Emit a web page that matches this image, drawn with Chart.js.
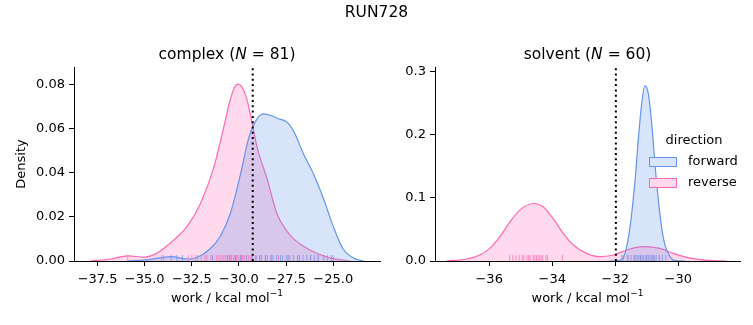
<!DOCTYPE html>
<html>
<head>
<meta charset="utf-8">
<title>RUN728</title>
<script src="https://cdn.jsdelivr.net/npm/chart.js@4.4.2/dist/chart.umd.min.js"></script>
<style>
  html, body { margin: 0; padding: 0; background: #fff; }
  #wrap { position: relative; width: 753px; height: 325px; }
  #wrap canvas { position: absolute; left: 0; top: 0; }
</style>
</head>
<body>
<div id="wrap">
  <canvas id="complex-chart" width="753" height="325"></canvas>
  <canvas id="solvent-chart" width="753" height="325"></canvas>
</div>
<script>
// --- données ---
const runName = 'RUN728';
const directions = ['forward', 'reverse'];

// complexe
const complexN = 81;
const complexForwardX = [-35.9, -34.9, -33.6, -32.7, -32.2, -31.5, -31.0, -30.45, -29.9, -29.5, -29.1, -28.7, -28.3, -27.9, -27.45, -27.1, -26.6, -26.0, -25.5, -25.0, -24.5, -23.9, -23.4];
const complexForwardY = [0, 0.0005, 0.002, 0.0009, 0.0017, 0.0058, 0.0111, 0.0218, 0.040, 0.0553, 0.0637, 0.0667, 0.066, 0.0645, 0.063, 0.059, 0.049, 0.0386, 0.0279, 0.0157, 0.0058, 0.0012, 0];
const complexReverseX = [-37.9, -36.8, -35.9, -35.0, -34.3, -33.45, -32.75, -32.05, -31.35, -30.8, -30.5, -30.25, -30.05, -29.85, -29.6, -29.4, -29.05, -28.5, -28.0, -27.3, -26.4, -25.5, -25.0, -24.1];
const complexReverseY = [0, 0.0009, 0.0023, 0.0018, 0.0038, 0.0096, 0.0157, 0.026, 0.042, 0.061, 0.072, 0.0785, 0.0802, 0.079, 0.074, 0.0667, 0.052, 0.037, 0.0218, 0.0119, 0.0058, 0.0023, 0.0011, 0];
const complexForwardRug = [-33.6, -33.3, -33.0, -31.4, -30.6, -30.2, -29.9, -29.6, -29.3, -29.1, -28.9, -28.8, -28.6, -28.5, -28.3, -28.2, -28.0, -27.8, -27.7, -27.5, -27.4, -27.3, -27.1, -26.9, -26.8, -26.6, -26.4, -26.2, -26.0, -25.8, -25.5, -25.3, -25.1, -25.0];
const complexReverseRug = [-35.9, -34.1, -34.0, -32.7, -32.5, -32.3, -32.2, -32.0, -31.8, -31.7, -31.5, -31.4, -31.2, -31.1, -31.0, -30.9, -30.8, -30.7, -30.6, -30.5, -30.45, -30.4, -30.3, -30.2, -30.15, -30.1, -30.0, -29.9, -29.85, -29.8, -29.7, -29.6, -29.5, -29.4, -29.3, -29.1, -28.9, -28.6, -28.3, -27.9, -27.4, -26.8, -26.2, -25.8];
const complexLineX = -29.27;
const complexXTicks = [-37.5, -35.0, -32.5, -30.0, -27.5, -25.0];
const complexYTicks = [0, 0.02, 0.04, 0.06, 0.08];

// solvant
const solventN = 60;
const solventForwardX = [-32.2, -31.85, -31.69, -31.53, -31.37, -31.27, -31.16, -31.06, -30.95, -30.84, -30.74, -30.63, -30.53, -30.42, -30.26, -30.1, -29.8];
const solventForwardY = [0, 0.001, 0.012, 0.054, 0.128, 0.191, 0.249, 0.277, 0.265, 0.217, 0.154, 0.096, 0.054, 0.025, 0.0068, 0.0005, 0];
const solventReverseX = [-37.35, -36.72, -36.3, -35.98, -35.66, -35.34, -35.03, -34.6, -34.29, -33.97, -33.65, -33.33, -32.91, -32.49, -32.06, -31.64, -31.11, -30.58, -30.16, -29.73, -29.31, -28.89, -28.46];
const solventReverseY = [0, 0.0032, 0.0095, 0.02, 0.0384, 0.062, 0.0805, 0.091, 0.0858, 0.067, 0.0437, 0.0253, 0.0121, 0.0068, 0.0095, 0.0174, 0.0226, 0.02, 0.0121, 0.0058, 0.0021, 0.0005, 0];
const solventForwardRug = [-31.75, -31.6, -31.5, -31.4, -31.35, -31.3, -31.25, -31.2, -31.15, -31.1, -31.05, -31.0, -30.95, -30.9, -30.85, -30.8, -30.75, -30.7, -30.6, -30.5];
const solventReverseRug = [-35.35, -35.25, -35.15, -35.05, -34.95, -34.9, -34.8, -34.75, -34.7, -34.6, -34.55, -34.5, -34.45, -34.4, -34.35, -34.3, -34.2, -34.15, -33.67, -31.8, -31.6, -31.4, -31.2, -31.0, -30.8, -30.6, -30.4];
const solventLineX = -31.98;
const solventXTicks = [-36, -34, -32, -30];
const solventYTicks = [0, 0.1, 0.2, 0.3];

// --- style ---
const FONT = "'DejaVu Sans', sans-serif";
const TICK_SIZE = 13;
const TITLE_SIZE = 15.5;
const colorForward = [100, 149, 237];
const colorReverse = [255, 105, 180];

function rgba(c, a) {
  return `rgba(${c[0]}, ${c[1]}, ${c[2]}, ${a})`;
}

function minusFmt(v, digits) {
  return (v < 0 ? '\u2212' : '') + Math.abs(v).toFixed(digits);
}

function kdeDataset(label, xs, ys, color) {
  return {
    label,
    kde: true,
    data: xs.map((x, i) => ({ x, y: ys[i] })),
    borderColor: rgba(color, 1),
    backgroundColor: rgba(color, 0.25),
    borderWidth: 1.2,
    fill: 'origin',
    pointRadius: 0,
    cubicInterpolationMode: 'monotone',
    order: 3
  };
}

function rugDataset(values, color) {
  return {
    label: '',
    data: values.map(x => ({ x, y: 0 })),
    showLine: false,
    pointStyle: 'line',
    rotation: 90,
    pointRadius: 6,
    pointBorderWidth: 1,
    pointBorderColor: rgba(color, 0.7),
    pointBackgroundColor: rgba(color, 0.7),
    clip: { left: 5, right: 5, top: 5, bottom: 0 },
    order: 2
  };
}

function refLine(x, yMax) {
  return {
    label: '',
    data: [{ x, y: 0 }, { x, y: yMax }],
    borderColor: '#000',
    borderWidth: 2,
    borderDash: [2, 3.3],
    pointRadius: 0,
    fill: false,
    order: 0
  };
}

// dessine une suite de morceaux de texte (normal / italique / exposant)
function drawRuns(ctx, runs, cx, cy) {
  const fontOf = r => `${r.italic ? 'italic ' : ''}${r.size}px ${FONT}`;
  let total = 0;
  runs.forEach(r => { ctx.font = fontOf(r); total += ctx.measureText(r.text).width; });
  let x = cx - total / 2;
  ctx.textAlign = 'left';
  ctx.textBaseline = 'middle';
  runs.forEach(r => {
    ctx.font = fontOf(r);
    ctx.fillText(r.text, x, cy - (r.rise || 0));
    x += ctx.measureText(r.text).width;
  });
}

const textPlugin = {
  id: 'subplotText',
  afterDraw(chart, args, opts) {
    const { ctx, chartArea: a } = chart;
    const cx = (a.left + a.right) / 2;
    ctx.save();
    ctx.fillStyle = '#000';
    if (opts.suptitle) {
      drawRuns(ctx, [{ text: opts.suptitle, size: TITLE_SIZE }], chart.width / 2, 13);
    }
    drawRuns(ctx, [
      { text: opts.name + ' (', size: TITLE_SIZE },
      { text: 'N', size: TITLE_SIZE, italic: true },
      { text: ' = ' + opts.n + ')', size: TITLE_SIZE }
    ], cx, a.top - 12);
    drawRuns(ctx, [
      { text: 'work / kcal mol', size: TICK_SIZE },
      { text: '\u22121', size: 9, rise: 5 }
    ], cx, a.bottom + 38);
    if (opts.ylabel) {
      ctx.translate(a.left - 52, (a.top + a.bottom) / 2);
      ctx.rotate(-Math.PI / 2);
      drawRuns(ctx, [{ text: opts.ylabel, size: TICK_SIZE }], 0, 0);
    }
    ctx.restore();
  }
};

const legendPlugin = {
  id: 'directionLegend',
  afterDraw(chart, args, opts) {
    if (!opts.show) return;
    const { ctx, chartArea: a } = chart;
    const items = chart.data.datasets.filter(d => d.kde);
    ctx.save();
    ctx.fillStyle = '#000';
    drawRuns(ctx, [{ text: opts.title, size: TICK_SIZE }], a.right - 46, a.top + 74);
    items.forEach((d, i) => {
      const top = a.top + 90 + i * 21;
      const left = a.right - 91;
      ctx.fillStyle = '#fff';
      ctx.fillRect(left, top, 28, 10);
      ctx.fillStyle = d.backgroundColor;
      ctx.fillRect(left, top, 28, 10);
      ctx.strokeStyle = d.borderColor;
      ctx.lineWidth = 1;
      ctx.strokeRect(left + 0.5, top + 0.5, 27, 9);
      ctx.fillStyle = '#000';
      ctx.font = `${TICK_SIZE}px ${FONT}`;
      ctx.textAlign = 'left';
      ctx.textBaseline = 'middle';
      ctx.fillText(d.label, a.right - 52, top + 5);
    });
    ctx.restore();
  }
};

function axisOptions(min, max, ticks, digits, size, isX) {
  return {
    type: 'linear',
    min,
    max,
    afterBuildTicks: s => { s.ticks = ticks.map(v => ({ value: v })); },
    afterFit: s => { if (isX) s.height = size; else s.width = size; },
    ticks: {
      callback: v => minusFmt(v, digits),
      color: '#000',
      font: { family: FONT, size: TICK_SIZE },
      padding: isX ? 6 : 4,
      maxRotation: 0,
      autoSkip: false,
      includeBounds: false
    },
    grid: { drawOnChartArea: false, drawTicks: true, tickLength: 5, color: '#000' },
    border: { display: true, color: '#000', width: 1 }
  };
}

function makeChart(id, cfg) {
  return new Chart(document.getElementById(id), {
    type: 'line',
    data: {
      datasets: [
        refLine(cfg.lineX, cfg.yMax),
        rugDataset(cfg.fRug, colorForward),
        rugDataset(cfg.rRug, colorReverse),
        kdeDataset(directions[0], cfg.fX, cfg.fY, colorForward),
        kdeDataset(directions[1], cfg.rX, cfg.rY, colorReverse)
      ]
    },
    options: {
      responsive: false,
      animation: false,
      devicePixelRatio: 1,
      layout: { padding: cfg.padding },
      plugins: {
        legend: { display: false },
        tooltip: { enabled: false },
        subplotText: cfg.text,
        directionLegend: cfg.legend
      },
      scales: {
        x: axisOptions(cfg.xMin, cfg.xMax, cfg.xTicks, cfg.xDigits, 64, true),
        y: axisOptions(0, cfg.yMax, cfg.yTicks, cfg.yDigits, cfg.yWidth, false)
      }
    },
    plugins: [textPlugin, legendPlugin]
  });
}

makeChart('complex-chart', {
  fX: complexForwardX, fY: complexForwardY, rX: complexReverseX, rY: complexReverseY,
  fRug: complexForwardRug, rRug: complexReverseRug,
  lineX: complexLineX,
  xMin: -38.75, xMax: -22.52, yMax: 0.088,
  xTicks: complexXTicks, yTicks: complexYTicks, xDigits: 1, yDigits: 2,
  yWidth: 74,
  padding: { left: 0, top: 67, right: 373, bottom: 0 },
  text: { suptitle: runName, name: 'complex', n: complexN, ylabel: 'Density' },
  legend: { show: false }
});

makeChart('solvent-chart', {
  fX: solventForwardX, fY: solventForwardY, rX: solventReverseX, rY: solventReverseY,
  fRug: solventForwardRug, rRug: solventReverseRug,
  lineX: solventLineX,
  xMin: -37.72, xMax: -28.04, yMax: 0.307,
  xTicks: solventXTicks, yTicks: solventYTicks, xDigits: 0, yDigits: 1,
  yWidth: 45,
  padding: { left: 390, top: 67, right: 13, bottom: 0 },
  text: { name: 'solvent', n: solventN },
  legend: { show: true, title: 'direction' }
});
</script>
</body>
</html>
